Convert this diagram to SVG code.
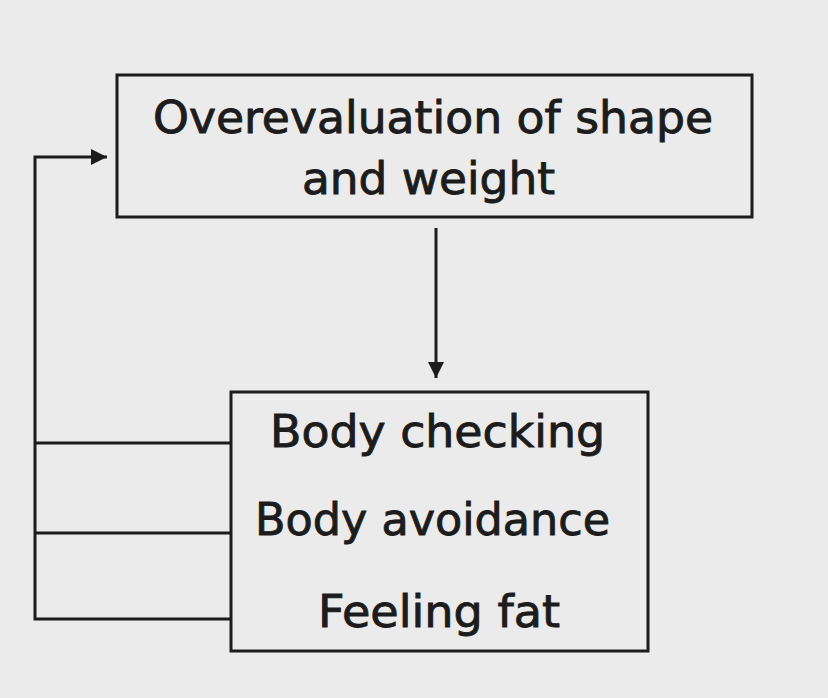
<svg xmlns="http://www.w3.org/2000/svg" width="828" height="698" viewBox="0 0 828 698">
  <style>
    .box { fill: none; stroke: #1c1c1c; stroke-width: 3; }
    .edge { fill: none; stroke: #1c1c1c; stroke-width: 3; }
    .lbl { font-family: "DejaVu Sans", "Liberation Sans", sans-serif; font-size: 44px; fill: #1c1c1c; stroke: #1c1c1c; stroke-width: 0.9; text-anchor: start; }
  </style>
  <defs>
    <marker id="arrow" viewBox="0 0 10 10" refX="10" refY="5" markerWidth="5.5" markerHeight="5.5" markerUnits="strokeWidth" orient="auto">
      <path d="M0,0 L10,5 L0,10 Z" fill="#1c1c1c"/>
    </marker>
  </defs>
  <rect x="0" y="0" width="828" height="698" fill="#ebebeb"/>
  <g id="node-overevaluation">
    <rect class="box" x="117" y="75" width="635" height="142"/>
    <text class="lbl" x="153" y="133" textLength="560" lengthAdjust="spacingAndGlyphs">Overevaluation of shape</text>
    <text class="lbl" x="302" y="194" textLength="253" lengthAdjust="spacingAndGlyphs">and weight</text>
  </g>
  <g id="node-behaviours">
    <rect class="box" x="231" y="392" width="417" height="259"/>
    <text class="lbl" x="270" y="447" textLength="335" lengthAdjust="spacingAndGlyphs">Body checking</text>
    <text class="lbl" x="255" y="535" textLength="355" lengthAdjust="spacingAndGlyphs">Body avoidance</text>
    <text class="lbl" x="318" y="627" textLength="242" lengthAdjust="spacingAndGlyphs">Feeling fat</text>
  </g>
  <g id="connectors">
    <line class="edge" x1="436" y1="228" x2="436" y2="378" marker-end="url(#arrow)"/>
    <polyline class="edge" points="231,619 35,619 35,157 107,157" marker-end="url(#arrow)"/>
    <line class="edge" x1="231" y1="443" x2="35" y2="443"/>
    <line class="edge" x1="231" y1="533" x2="35" y2="533"/>
  </g>
</svg>
